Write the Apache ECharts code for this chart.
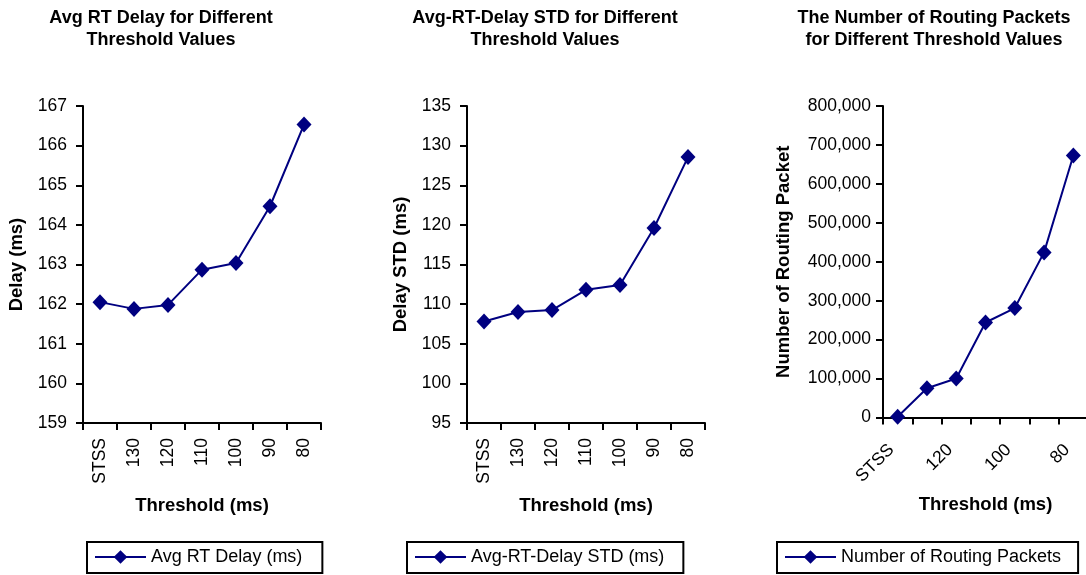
<!DOCTYPE html>
<html><head><meta charset="utf-8">
<script src="https://cdn.jsdelivr.net/npm/echarts@6/dist/echarts.min.js"></script>
<style>html,body{margin:0;padding:0;background:#fff}#c{width:1086px;height:575px}</style>
</head><body><div id="c"></div>
<script>
// ---- data ----
const categories = ['STSS', '130', '120', '110', '100', '90', '80'];
const avgRtDelay = [162.05, 161.88, 161.98, 162.87, 163.04, 164.47, 166.53];
const delayStd = [107.8, 109.0, 109.25, 111.8, 112.4, 119.6, 128.55];
const routingPackets = [2000, 75000, 100000, 244000, 281000, 424000, 673000];
const delayTicks = [159, 160, 161, 162, 163, 164, 165, 166, 167];
const stdTicks = [95, 100, 105, 110, 115, 120, 125, 130, 135];
const packetTicks = [0, 100000, 200000, 300000, 400000, 500000, 600000, 700000, 800000];
const titles = [
  'Avg RT Delay for Different\nThreshold Values',
  'Avg-RT-Delay STD for Different\nThreshold Values',
  'The Number of Routing Packets\nfor Different Threshold Values'
];
const seriesNames = ['Avg RT Delay (ms)', 'Avg-RT-Delay STD (ms)', 'Number of Routing Packets'];
const yNames = ['Delay (ms)', 'Delay STD (ms)', 'Number of Routing Packets'];
const xName = 'Threshold (ms)';

// ---- styling ----
const FONT = "'Liberation Sans', Arial, sans-serif";
const NAVY = '#000080';
const grids = [
  {left: 83, top: 106, width: 238, height: 317},
  {left: 467, top: 106, width: 238, height: 317},
  {left: 883, top: 106, width: 205, height: 311.5}
];
const titleCenters = [161, 545, 934];
const legendPos = [
  {left: 87, padding: [6, 20, 7, 7]},
  {left: 407, padding: [6, 19, 7, 7]},
  {left: 777, padding: [6, 17, 7, 7]}
];
const yNameGaps = [57, 57, 90];
const yLabelMargins = [16, 16, 12];
const xNameGaps = [73, 73, 78];
const tickSets = [delayTicks, stdTicks, packetTicks];
const seriesData = [avgRtDelay, delayStd, routingPackets];

function fmt(v) { return String(v).replace(/\B(?=(\d{3})+(?!\d))/g, ','); }

const axisLine = {show: true, onZero: false, lineStyle: {color: '#000', width: 2}};
const axisTick = {show: true, inside: false, length: 7, lineStyle: {color: '#000', width: 2}};

const option = {
  animation: false,
  backgroundColor: '#fff',
  title: titles.map((t, i) => ({
    text: t, left: titleCenters[i], top: 7, textAlign: 'center', padding: 0,
    textStyle: {fontFamily: FONT, fontSize: 18, fontWeight: 'bold', color: '#000', lineHeight: 22}
  })),
  legend: seriesNames.map((n, i) => ({
    data: [n], left: legendPos[i].left, top: 542, padding: legendPos[i].padding,
    orient: 'horizontal', itemWidth: 51, itemHeight: 17,
    borderColor: '#000', borderWidth: 2, backgroundColor: '#fff',
    selectedMode: false,
    textStyle: {fontFamily: FONT, fontSize: 18, color: '#000'}
  })),
  grid: grids.map(g => Object.assign({containLabel: false, outerBoundsMode: 'none'}, g)),
  xAxis: grids.map((g, i) => ({
    type: 'category', gridIndex: i, data: categories, boundaryGap: true,
    name: xName, nameLocation: 'middle', nameGap: xNameGaps[i],
    nameTextStyle: {fontFamily: FONT, fontSize: 18.5, fontWeight: 'bold', color: '#000'},
    axisLine: axisLine,
    axisTick: Object.assign({interval: 0, alignWithLabel: false}, axisTick),
    splitLine: {show: false},
    axisLabel: i < 2
      ? {interval: 0, rotate: 90, margin: 15, fontFamily: FONT, fontSize: 17.5, color: '#000'}
      : {interval: 1, rotate: 45, margin: 36, align: 'right', verticalAlign: 'bottom', fontFamily: FONT, fontSize: 17.5, color: '#000'}
  })),
  yAxis: grids.map((g, i) => {
    const t = tickSets[i];
    return {
      type: 'value', gridIndex: i,
      min: t[0], max: t[t.length - 1], interval: t[1] - t[0],
      name: yNames[i], nameLocation: 'middle', nameGap: yNameGaps[i],
      nameTextStyle: {fontFamily: FONT, fontSize: 18.5, fontWeight: 'bold', color: '#000'},
      nameTruncate: i === 2 ? {maxWidth: 243, ellipsis: ''} : undefined,
      axisLine: axisLine, axisTick: axisTick,
      splitLine: {show: false},
      axisLabel: {margin: yLabelMargins[i], fontFamily: FONT, fontSize: 17.5, color: '#000',
        formatter: i === 2 ? fmt : (v => String(v))}
    };
  }),
  series: seriesData.map((d, i) => ({
    type: 'line', name: seriesNames[i], xAxisIndex: i, yAxisIndex: i, data: d,
    symbol: 'diamond', symbolSize: [15, 16], showAllSymbol: true,
    lineStyle: {color: NAVY, width: 2}, itemStyle: {color: NAVY},
    emphasis: {disabled: true}, z: 3
  }))
};

const chart = echarts.init(document.getElementById('c'), null, {renderer: 'canvas'});
chart.setOption(option);
</script>
</body></html>
